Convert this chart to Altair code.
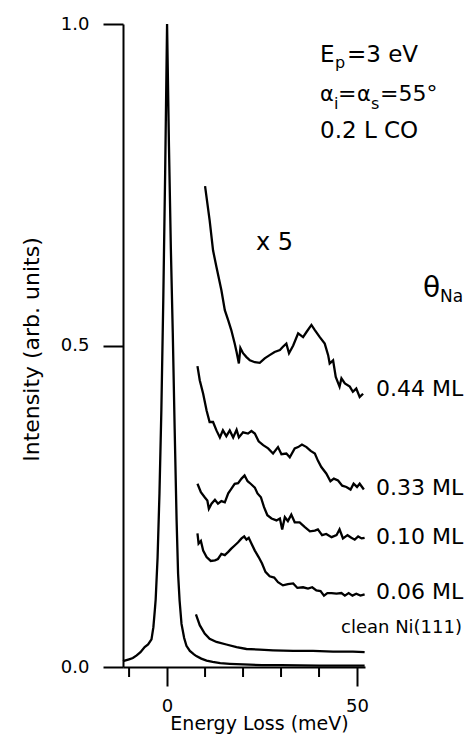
import altair as alt
import pandas as pd

# ---------------- data ----------------
peak_x = [-11.6, -10, -9, -8, -7, -5.9, -5, -4.1, -3.6, -3.2, -3, -2.5, -2, -1.5, -1,
          -0.5, 0, 0.5, 1, 1.5, 2, 2.5, 2.9, 3.3, 3.8, 4.5, 5.1, 6, 7, 7.7, 9, 10.4,
          12, 14, 16.5, 20, 25, 30, 40, 52]
peak_y = [0.009, 0.012, 0.014, 0.018, 0.023, 0.031, 0.035, 0.043, 0.062, 0.090, 0.105,
          0.17, 0.27, 0.40, 0.57, 0.77, 1.0, 0.81, 0.65, 0.52, 0.37, 0.23, 0.145,
          0.103, 0.067, 0.045, 0.033, 0.025, 0.020, 0.017, 0.013, 0.010, 0.008, 0.006,
          0.005, 0.004, 0.003, 0.003, 0.002, 0.002]

ml044_x = [10.0, 11.2, 12.1, 13.0, 14.3, 15.2, 16.1, 16.9, 17.8, 18.3, 18.9, 19.3, 20.0,
           20.9, 21.8, 23.1, 24.4, 25.7, 27.0, 28.3, 29.7, 30.5, 31.4, 32.1, 33.2, 34.5,
           35.8, 36.7, 38.0, 38.9, 40.2, 41.5, 42.4, 42.8, 43.7, 44.4, 45.4, 45.9, 46.8,
           48.1, 48.9, 49.8, 50.7, 51.6]
ml044_y = [0.748, 0.695, 0.648, 0.622, 0.586, 0.555, 0.539, 0.524, 0.503, 0.490, 0.472,
           0.496, 0.488, 0.482, 0.477, 0.474, 0.473, 0.480, 0.485, 0.490, 0.493, 0.498,
           0.503, 0.488, 0.500, 0.519, 0.513, 0.521, 0.532, 0.524, 0.513, 0.503, 0.485,
           0.472, 0.477, 0.451, 0.436, 0.449, 0.441, 0.436, 0.428, 0.433, 0.420, 0.425]

ml033_x = [8.0, 8.6, 9.5, 10.4, 11.2, 12.1, 13.0, 13.9, 14.7, 15.6, 16.5, 17.4, 18.3,
           18.9, 20.0, 21.3, 22.2, 23.1, 24.1, 25.3, 26.6, 27.9, 29.2, 30.1, 31.4, 32.3,
           33.6, 34.5, 35.5, 36.7, 37.8, 38.9, 39.7, 40.6, 41.9, 43.0, 43.9, 45.0, 46.1,
           47.2, 48.3, 49.1, 50.0, 50.7, 51.8]
ml033_y = [0.468, 0.446, 0.425, 0.399, 0.381, 0.381, 0.368, 0.357, 0.368, 0.359, 0.368,
           0.357, 0.369, 0.357, 0.365, 0.363, 0.367, 0.363, 0.351, 0.345, 0.340, 0.332,
           0.342, 0.331, 0.332, 0.326, 0.340, 0.342, 0.346, 0.342, 0.336, 0.332, 0.321,
           0.311, 0.301, 0.289, 0.293, 0.290, 0.282, 0.280, 0.276, 0.285, 0.280, 0.285,
           0.276]

ml010_x = [8.0, 8.9, 9.9, 10.6, 11.0, 11.7, 12.6, 13.4, 14.3, 15.2, 16.1, 16.9, 17.8,
           18.7, 19.6, 20.4, 21.2, 22.0, 23.1, 23.8, 24.7, 25.5, 26.4, 27.5, 28.8, 29.7,
           30.3, 31.0, 31.8, 32.7, 33.6, 34.9, 36.2, 37.6, 38.9, 39.7, 40.8, 41.9, 43.3,
           44.6, 45.4, 46.3, 47.5, 48.5, 49.4, 50.3, 51.2, 52.0]
ml010_y = [0.285, 0.272, 0.264, 0.259, 0.246, 0.254, 0.260, 0.254, 0.258, 0.256, 0.270,
           0.277, 0.285, 0.286, 0.293, 0.298, 0.289, 0.285, 0.279, 0.270, 0.264, 0.249,
           0.236, 0.231, 0.228, 0.231, 0.214, 0.233, 0.227, 0.237, 0.225, 0.225, 0.218,
           0.211, 0.212, 0.214, 0.205, 0.207, 0.202, 0.205, 0.214, 0.200, 0.205, 0.201,
           0.198, 0.203, 0.200, 0.201]

ml006_x = [8.0, 8.3, 8.9, 9.5, 10.4, 11.5, 12.6, 13.4, 14.3, 15.2, 16.1, 16.9, 17.8,
           18.7, 19.6, 20.3, 20.9, 21.5, 22.2, 23.1, 24.1, 25.0, 25.9, 27.0, 28.2, 29.2,
           30.5, 31.8, 33.2, 34.3, 35.8, 37.1, 38.2, 39.3, 40.4, 41.3, 42.2, 43.3, 44.6,
           45.9, 46.8, 47.8, 48.8, 49.8, 50.9, 52.0]
ml006_y = [0.208, 0.192, 0.196, 0.181, 0.171, 0.165, 0.166, 0.168, 0.176, 0.174, 0.179,
           0.184, 0.189, 0.194, 0.200, 0.203, 0.198, 0.201, 0.192, 0.181, 0.171, 0.161,
           0.148, 0.141, 0.139, 0.132, 0.127, 0.129, 0.130, 0.123, 0.124, 0.122, 0.124,
           0.119, 0.118, 0.111, 0.115, 0.115, 0.114, 0.115, 0.111, 0.115, 0.111, 0.114,
           0.111, 0.113]

clean_x = [7.6, 8.6, 9.9, 11.2, 13.0, 15.6, 18.3, 20.9, 24.4, 27.9, 33.2, 38.4, 43.7,
           48.9, 52.0]
clean_y = [0.082, 0.065, 0.052, 0.044, 0.039, 0.035, 0.031, 0.028, 0.027, 0.026, 0.025,
           0.025, 0.024, 0.024, 0.023]

coverage_labels = ["0.44 ML", "0.33 ML", "0.10 ML", "0.06 ML", "clean Ni(111)"]
x_ticks_major = [0, 50]
x_ticks_minor = [-10, 10, 20, 30, 40]
y_ticks = [0.0, 0.5, 1.0]

series = [("elastic", peak_x, peak_y), ("0.44", ml044_x, ml044_y),
          ("0.33", ml033_x, ml033_y), ("0.10", ml010_x, ml010_y),
          ("0.06", ml006_x, ml006_y), ("clean", clean_x, clean_y)]
rows = []
for name, xs, ys in series:
    for i, (xv, yv) in enumerate(zip(xs, ys)):
        rows.append({"series": name, "x": xv, "y": yv, "i": i})
df = pd.DataFrame(rows)

FONT = "DejaVu Sans"
W, H = 242, 643

xscale = alt.Scale(domain=[-11.6, 52.1], nice=False, zero=False)
yscale = alt.Scale(domain=[0, 1], nice=False, zero=False)

lines = alt.Chart(df).mark_line(color="black", strokeWidth=2.3).encode(
    x=alt.X("x:Q", scale=xscale,
            axis=alt.Axis(values=x_ticks_major, tickSize=19, tickWidth=2,
                          domainWidth=2, labelFontSize=18, labelPadding=25,
                          labelBaseline="alphabetic", labelFont=FONT, grid=False,
                          title="Energy Loss (meV)", titleFont=FONT, titleFontSize=19,
                          titleFontWeight="normal", titleBaseline="alphabetic",
                          titleX=136, titleY=62)),
    y=alt.Y("y:Q", scale=yscale,
            axis=alt.Axis(values=y_ticks, format=".1f", tickSize=20, tickWidth=2,
                          domainWidth=2, labelFontSize=18, labelPadding=14,
                          labelFont=FONT, grid=False,
                          title="Intensity (arb. units)", titleFont=FONT,
                          titleFontSize=22, titleFontWeight="normal",
                          titleBaseline="alphabetic", titleX=-85, titleY=325)),
    detail="series:N",
    order="i:Q",
)

minor = alt.Chart(pd.DataFrame({"t": x_ticks_minor})).mark_rule(
    color="black", strokeWidth=2).encode(
    x=alt.X("t:Q", scale=xscale), y=alt.value(H), y2=alt.value(H + 10))


def label(text, x, y, size, baseline="alphabetic"):
    return alt.Chart(pd.DataFrame({"t": [text]})).mark_text(
        text=text, font=FONT, fontSize=size, color="black", align="left",
        baseline=baseline).encode(x=alt.value(x), y=alt.value(y))


texts = [
    label(coverage_labels[0], 253, 365, 22, "middle"),
    label(coverage_labels[1], 253, 464, 22, "middle"),
    label(coverage_labels[2], 253, 513, 22, "middle"),
    label(coverage_labels[3], 253, 568, 22, "middle"),
    label(coverage_labels[4], 218, 604, 18, "middle"),
    label("x 5", 133, 219, 24, "middle"),
    # E_p = 3 eV
    label("E", 197, 38, 23),
    label("p", 212, 44, 16),
    label("=3 eV", 224, 38, 23),
    # alpha_i = alpha_s = 55 deg
    label("α", 197, 77, 21),
    label("i", 211, 85, 16),
    label("=", 215, 77, 22),
    label("α", 234, 77, 21),
    label("s", 248, 85, 16),
    label("=55°", 257, 77, 22),
    # 0.2 L CO
    label("0.2 L CO", 197, 114, 23),
    # theta_Na
    label("θ", 300, 273, 28),
    label("Na", 317, 278, 17),
]

chart = alt.layer(lines, minor, *texts).properties(
    width=W, height=H,
    padding={"left": 115, "top": 16, "right": 99, "bottom": 67},
    autosize=alt.AutoSizeParams(type="none"),
).configure_view(stroke=None).configure_axis(
    domainColor="black", tickColor="black", labelColor="black", titleColor="black",
)

chart.save("out.html", embed_options={"renderer": "svg", "actions": False})
